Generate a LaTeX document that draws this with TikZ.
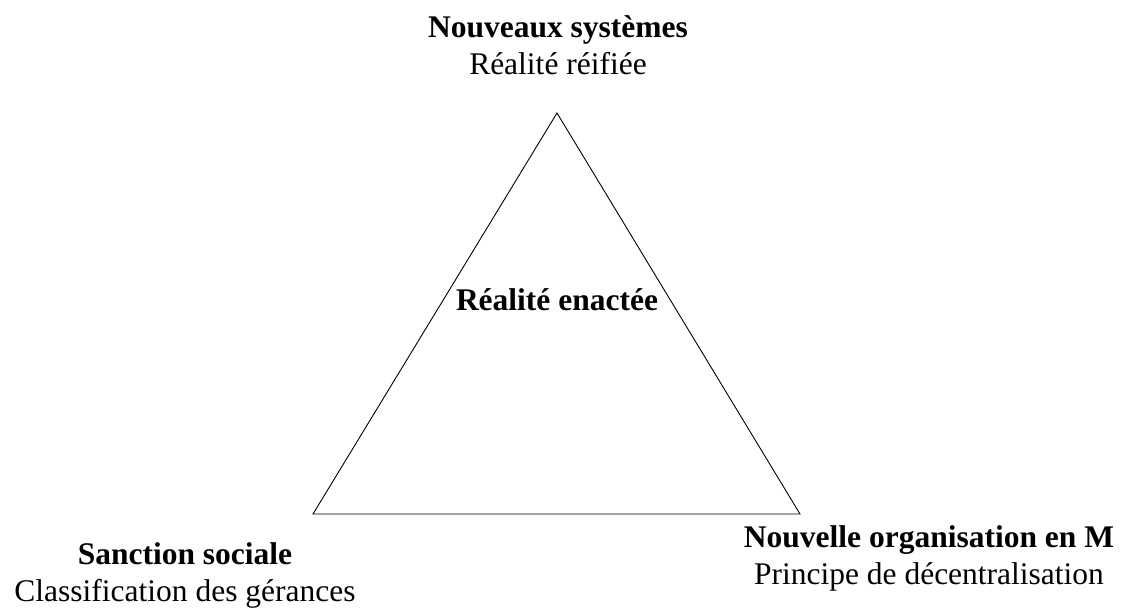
\documentclass[tikz,border=0pt]{standalone}
\usepackage{fontspec}
\setmainfont{Liberation Serif}
\usetikzlibrary{positioning}

\begin{document}
\begin{tikzpicture}[
  x=1pt, y=-1pt,
  lbl/.style={align=center, inner sep=0pt, font=\fontsize{31.5}{37}\selectfont},
  edge/.style={draw, line width=0.9pt, line join=miter}
]
\useasboundingbox (0,0) rectangle (1126,608);

% corners of the triangle
\coordinate (apex)  at (557,113);
\coordinate (left)  at (313,514);
\coordinate (right) at (800,514);

\draw[edge] (apex) -- (right) -- (left) -- cycle;

% centre
\node[lbl] (enacted) at (557,300) {\textbf{Réalité enactée}};

% corner labels
\node[lbl] (systems) at (558,45)  {\textbf{Nouveaux systèmes}\\Réalité réifiée};
\node[lbl] (sanction) at (185,575) {\textbf{Sanction sociale}\\Classification des gérances};
\node[lbl] (orgm)    at (929,558) {\textbf{Nouvelle organisation en M}\\Principe de décentralisation};

\end{tikzpicture}
\end{document}
